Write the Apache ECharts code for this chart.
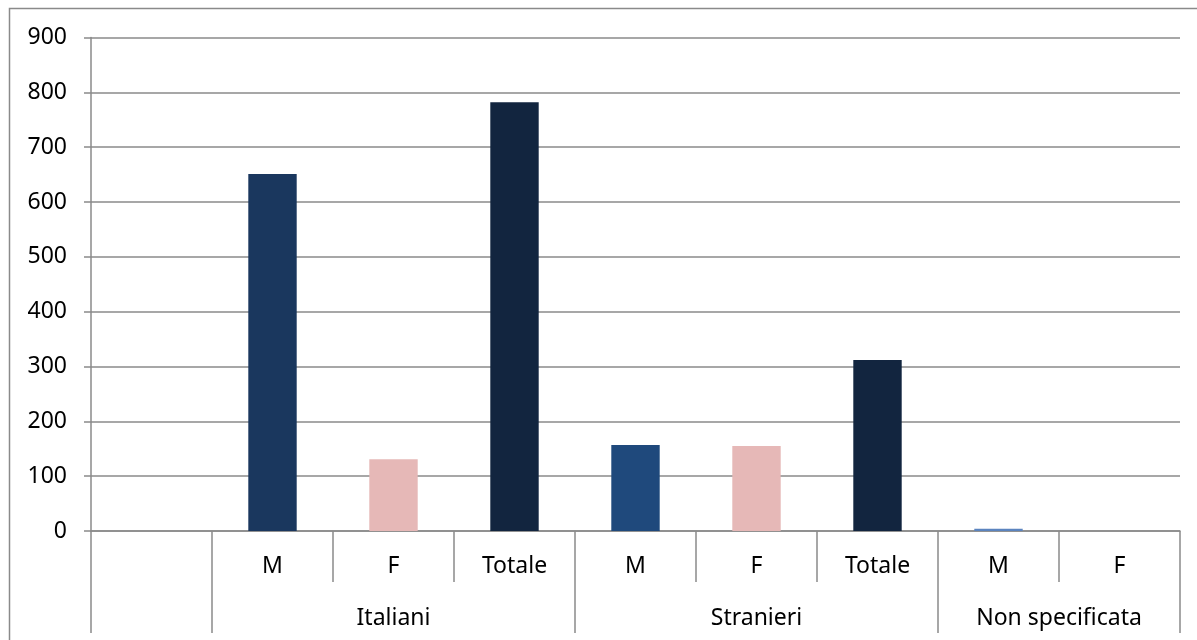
<!DOCTYPE html>
<html>
<head>
<meta charset="utf-8">
<script src="https://cdn.jsdelivr.net/npm/echarts@6/dist/echarts.min.js"></script>
<style>
  html, body { margin: 0; padding: 0; background: #fff; }
  #chart { width: 1197px; height: 640px; }
</style>
</head>
<body>
<div id="chart"></div>
<script>
// Sub-categories (first slot left empty), group labels and values
const categories = ['', 'M', 'F', 'Totale', 'M', 'F', 'Totale', 'M', 'F'];
const groups = ['Italiani', 'Stranieri', 'Non specificata'];
// group span in slots: [start, end]
const groupSpans = [[1, 4], [4, 7], [7, 9]];
const values = [null, 651, 131, 782, 157, 155, 312, 4, 0];
const barColors = [null, '#1a375e', '#e6b8b7', '#12253f', '#1f497c', '#e6b8b7', '#12253f', '#5b84bf', '#e6b8b7'];
const yTicks = { min: 0, max: 900, interval: 100 };

const FONT = '"Noto Sans"';
const FONT_SIZE = 23;
const AXIS_COLOR = '#8a8a8a';

// Half-slot positions for the group axis (boundaryGap false => 19 points over 9 slots)
const halfSlots = [];
for (let k = 0; k <= categories.length * 2; k++) halfSlots.push(k);
const groupLabelAt = {};
groupSpans.forEach((s, i) => { groupLabelAt[s[0] + s[1]] = groups[i]; });
const groupTickAt = new Set([0]);
groupSpans.forEach(s => { groupTickAt.add(s[0] * 2); groupTickAt.add(s[1] * 2); });

const lineStyle = { color: AXIS_COLOR, width: 1.5 };

const chart = echarts.init(document.getElementById('chart'));
chart.setOption({
  animation: false,
  backgroundColor: '#fff',
  graphic: [{
    type: 'rect',
    shape: { x: 9.5, y: 8.5, width: 1200, height: 700 },
    style: { fill: 'none', stroke: AXIS_COLOR, lineWidth: 1.5 },
    silent: true, z: -1
  }],
  grid: { left: 91, right: 17, top: 37.5, bottom: 109 },
  xAxis: [{
    type: 'category',
    data: categories,
    position: 'bottom',
    axisLine: { lineStyle },
    axisTick: { show: true, interval: 0, length: 51, lineStyle },
    axisLabel: { interval: 0, margin: 24, color: '#000', fontSize: FONT_SIZE, fontFamily: FONT }
  }, {
    type: 'category',
    data: halfSlots,
    boundaryGap: false,
    position: 'bottom',
    axisLine: { show: false },
    axisTick: {
      show: true, length: 102, lineStyle,
      interval: (idx) => groupTickAt.has(idx)
    },
    axisLabel: {
      interval: 0, margin: 76, color: '#000', fontSize: FONT_SIZE, fontFamily: FONT,
      formatter: (v) => groupLabelAt[v] || ''
    },
    splitLine: { show: false }
  }],
  yAxis: {
    type: 'value',
    min: yTicks.min, max: yTicks.max, interval: yTicks.interval,
    axisLine: { show: true, lineStyle },
    axisTick: { show: true, length: 7, lineStyle },
    axisLabel: { margin: 24, color: '#000', fontSize: FONT_SIZE, fontFamily: FONT },
    splitLine: { lineStyle }
  },
  series: [{
    type: 'bar',
    xAxisIndex: 0,
    barWidth: '40%',
    data: values.map((v, i) => ({ value: v, itemStyle: { color: barColors[i] } }))
  }]
});
</script>
</body>
</html>
